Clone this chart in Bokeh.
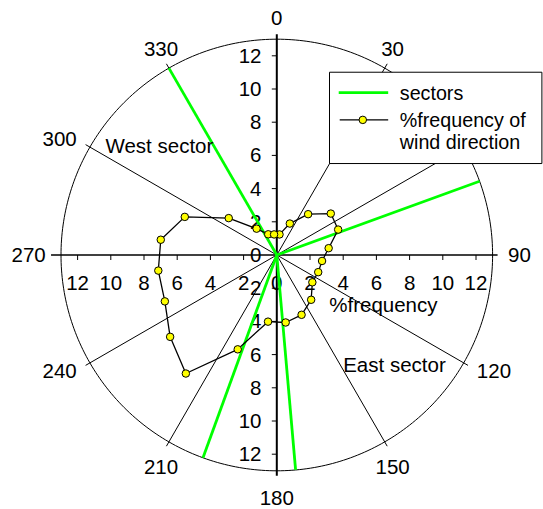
import numpy as np
from bokeh.plotting import figure
from bokeh.models import Range1d
from bokeh.embed import file_html
from bokeh.resources import INLINE
from bokeh.core.properties import value

# ---------------- data ----------------
directions = [7.5, 22.5, 37.5, 52.5, 67.5, 82.5, 97.5, 112.5, 127.5, 142.5, 157.5, 172.5,
              187.5, 202.5, 217.5, 232.5, 247.5, 262.5, 277.5, 292.5, 307.5, 322.5, 337.5, 352.5]
frequency = [1.25, 2.05, 3.1, 4.1, 4.0, 3.15, 2.75, 2.7, 2.7, 3.4, 3.9, 4.1,
             4.05, 6.15, 9.0, 8.1, 7.3, 7.2, 7.05, 6.0, 3.65, 2.0, 1.35, 1.25]
sector_bounds = [70, 175, 200, 330]
grid_angles = [30, 60, 120, 150, 210, 240, 300, 330]
angle_label_values = [0, 30, 90, 120, 150, 180, 210, 240, 270, 300, 330]
radial_ticks = [2, 4, 6, 8, 10, 12]
circle_radius = 13
sector_labels = ["West sector", "East sector"]
axis_title = "%frequency"
legend_labels = ["sectors", "%frequency of", "wind direction"]

# ---------------- geometry ----------------
W, H = 543, 509
S = 16.6                       # px per unit
CX, CY = 276.3, 254.5          # centre in figure px
x0, x1 = -CX / S, (W - CX) / S
y1, y0 = CY / S, -(H - CY) / S
FONT = value("Liberation Sans")
FS = "20.5px"
FS_LEG = "19.7px"
GREEN = "#00FF00"

p = figure(width=W, height=H, x_range=Range1d(x0, x1), y_range=Range1d(y0, y1),
           output_backend="svg", toolbar_location=None, min_border=0)
p.axis.visible = False
p.grid.visible = False
p.outline_line_color = None
p.background_fill_color = "white"
p.border_fill_color = "white"

def polar(theta_deg, r):
    t = np.radians(np.asarray(theta_deg, dtype=float))
    r = np.asarray(r, dtype=float)
    return r * np.sin(t), r * np.cos(t)

# thin radial grid lines
gx, gy = polar(grid_angles, [13.3] * len(grid_angles))
p.segment(x0=0, y0=0, x1=gx, y1=gy, line_color="black", line_width=1)

# outer circle
th = np.linspace(0, 360, 361)
cxs, cys = polar(th, [circle_radius] * len(th))
p.line(cxs, cys, line_color="black", line_width=1)

# axes
p.segment(x0=[0], y0=[-13.3], x1=[0], y1=[13.3], line_color="black", line_width=2)
p.segment(x0=[-13.6], y0=[0], x1=[13.3], y1=[0], line_color="black", line_width=1.3)

# ticks
tk = np.array(radial_ticks, dtype=float)
vt = np.concatenate([tk, -tk])
p.segment(x0=np.zeros_like(vt), y0=vt, x1=np.full_like(vt, -5 / S), y1=vt,
          line_color="black", line_width=1)
p.segment(x0=vt, y0=np.zeros_like(vt), x1=vt, y1=np.full_like(vt, -5 / S),
          line_color="black", line_width=1)

# vertical axis tick labels
vy = [0.0] + list(tk) + list(-tk)
vlab = [str(int(abs(v))) for v in vy]
p.text(x=[-15.3 / S] * len(vy), y=vy, text=vlab, text_font=FONT, text_font_size=FS,
       text_align="right", text_baseline="middle", text_color="black")

# horizontal axis tick labels
hx = list(-tk[::-1]) + [0.0] + list(tk)
hlab = [str(int(abs(v))) for v in hx]
p.text(x=hx, y=[-27.5 / S] * len(hx), text=hlab, text_font=FONT, text_font_size=FS,
       text_align="center", text_baseline="middle", text_color="black")

# angle labels
lx, ly = [], []
for a in angle_label_values:
    s, c = np.sin(np.radians(a)), np.cos(np.radians(a))
    t = str(a)
    R = 13.95
    if abs(s) > 0.7:
        x = R * s + np.sign(s) * len(t) * 0.333
        y = R * c
    else:
        x = R * s
        y = R * c + (0.34 if c > 0 else -0.66)
    lx.append(x)
    ly.append(y)
p.text(x=lx, y=ly, text=[str(a) for a in angle_label_values], text_font=FONT,
       text_font_size=FS, text_align="center", text_baseline="middle", text_color="black")

# sector boundary lines
sx_, sy_ = polar(sector_bounds, [13.0] * len(sector_bounds))
p.segment(x0=0, y0=0, x1=sx_, y1=sy_, line_color=GREEN, line_width=2.8)

# frequency polygon
fx, fy = polar(directions, frequency)
p.line(np.append(fx, fx[0]), np.append(fy, fy[0]), line_color="black", line_width=1.3)
p.scatter(fx, fy, size=7.5, fill_color="#FFFF00", line_color="black", line_width=1)

# annotations
p.text(x=[-10.32, 4.0], y=[6.6, -6.6], text=sector_labels, text_font=FONT,
       text_font_size=FS, text_align="left", text_baseline="middle", text_color="black")
p.text(x=[3.16], y=[-3.0], text=[axis_title], text_font=FONT, text_font_size=FS,
       text_align="left", text_baseline="middle", text_color="black")

# legend (drawn by hand)
lg_left, lg_right, lg_top, lg_bottom = 3.175, 15.97, 11.01, 5.51
p.quad(left=[lg_left], right=[lg_right], top=[lg_top], bottom=[lg_bottom],
       fill_color="white", line_color="black", line_width=1)
p.segment(x0=[3.73], y0=[9.78], x1=[6.71], y1=[9.78], line_color=GREEN, line_width=2.8)
p.segment(x0=[3.79], y0=[8.14], x1=[6.71], y1=[8.14], line_color="black", line_width=1.3)
p.scatter([5.18], [8.14], size=7.5, fill_color="#FFFF00", line_color="black", line_width=1)
p.text(x=[7.41] * 3, y=[9.78, 8.12, 6.82], text=legend_labels, text_font=FONT,
       text_font_size=FS_LEG, text_align="left", text_baseline="middle", text_color="black")

open("out.html", "w").write(file_html(p, INLINE))
